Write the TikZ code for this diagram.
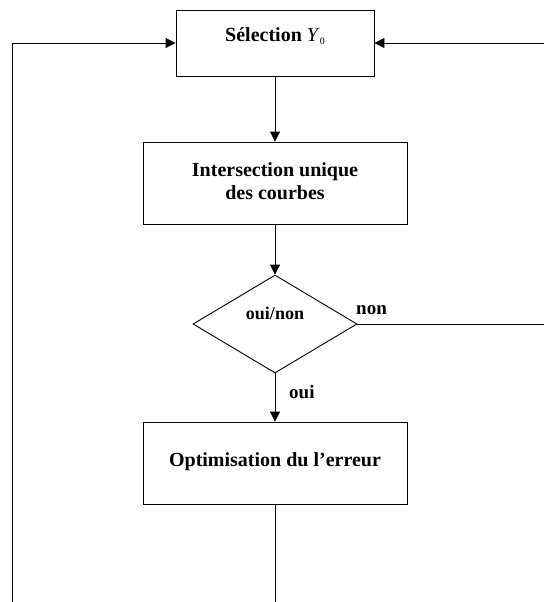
\documentclass[tikz,border=0pt]{standalone}
\usepackage{fontspec}
\setmainfont{Liberation Serif}
\usetikzlibrary{arrows.meta,shapes.geometric}
\tikzset{
  box/.style={draw, line width=0.9pt, inner sep=0pt, align=center},
  txt/.style={inner sep=0pt, font=\fontsize{20}{23}\selectfont\bfseries, align=center},
  lbl/.style={inner sep=0pt, font=\fontsize{19}{22}\selectfont\bfseries},
  conn/.style={line width=0.9pt},
  arr/.style={conn, -{Triangle[length=10pt,width=10pt]}},
}
\begin{document}
\begin{tikzpicture}[x=1pt,y=-1pt]
\useasboundingbox (0,0) rectangle (544,602);
% boxes
\node[box, minimum width=198pt, minimum height=66pt] (b1) at (275,43) {};
\node[txt] (t1) at (275,36) {Sélection \textnormal{\textit{Y}}\raisebox{-3pt}{\textnormal{\fontsize{10}{10}\selectfont 0}}};
\node[box, minimum width=264pt, minimum height=82pt] (b2) at (275,183) {};
\node[txt] (t2) at (275,181) {Intersection unique\\des courbes};
\node[draw, line width=0.9pt, diamond, inner sep=0pt, minimum width=164pt, minimum height=98pt] (d) at (275,324) {};
\node[inner sep=0pt, font=\fontsize{18}{20}\selectfont\bfseries] (t3) at (275,313) {oui/non};
\node[box, minimum width=264pt, minimum height=82pt] (b3) at (275,463) {};
\node[txt] (t4) at (275,462) {Optimisation du l’erreur};
% labels
\node[lbl, anchor=west] (non) at (356,310) {non};
\node[lbl, anchor=west] (oui) at (289,392) {oui};
% coordinates
\coordinate (lb) at (12,602);
\coordinate (lt) at (12,43);
\coordinate (rt) at (544,43);
\coordinate (rm) at (544,324);
\coordinate (cb) at (275,602);
% connectors
\draw[arr] (b1.south) -- (b2.north);
\draw[arr] (b2.south) -- (d.north);
\draw[arr] (d.south) -- (b3.north);
\draw[conn] (b3.south) -- (cb);
\draw[conn] (d.east) -- (rm);
\draw[arr] (rt) -- (b1.east);
\draw[arr] (lb) -- (lt) -- (b1.west);
\end{tikzpicture}
\end{document}
